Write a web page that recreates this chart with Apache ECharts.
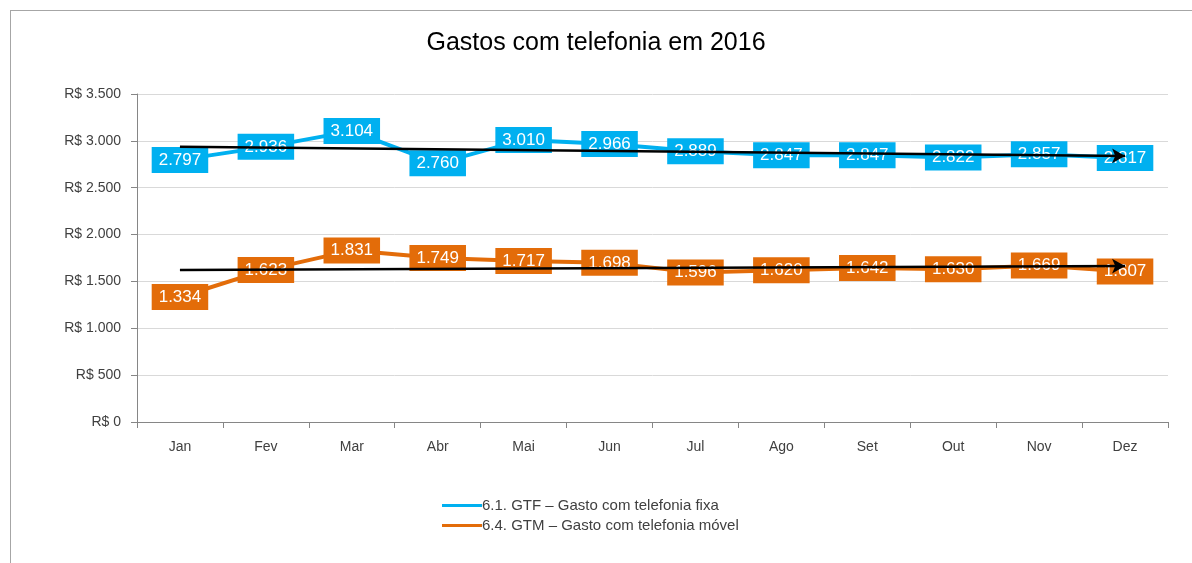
<!DOCTYPE html>
<html>
<head>
<meta charset="utf-8">
<script src="https://cdn.jsdelivr.net/npm/echarts@6/dist/echarts.min.js"></script>
<style>
    html, body { margin: 0; padding: 0; background: #fff; overflow: hidden; }
    #frame { position: absolute; left: 10px; top: 10px; width: 1200px; height: 600px; border: 1px solid #a6a6a6; }
    #main { position: absolute; left: 0; top: 0; width: 1192px; height: 563px; }
</style>
</head>
<body>
<div id="frame"></div>
<div id="main"></div>
<script>
// dados do gráfico
const months = ['Jan', 'Fev', 'Mar', 'Abr', 'Mai', 'Jun', 'Jul', 'Ago', 'Set', 'Out', 'Nov', 'Dez'];
const gtf = [2797, 2936, 3104, 2760, 3010, 2966, 2889, 2847, 2847, 2822, 2857, 2817];
const gtm = [1334, 1623, 1831, 1749, 1717, 1698, 1596, 1620, 1642, 1630, 1669, 1607];
// linhas de tendência (início em Jan, fim em Dez)
const trendGtf = [2938, 2838];
const trendGtm = [1622, 1664];
const names = ['6.1. GTF – Gasto com telefonia fixa', '6.4. GTM – Gasto com telefonia móvel'];

const blue = '#00b0f0';
const orange = '#e36c09';
const font = '"Liberation Sans Narrow", "Liberation Sans", sans-serif';

// formata número no padrão brasileiro (1.234)
const fmt = v => String(v).replace(/\B(?=(\d{3})+(?!\d))/g, '.');

const myChart = echarts.init(document.getElementById('main'));

const dataLabel = (color) => ({
    show: true,
    position: 'inside',
    color: '#fff',
    fontSize: 17,
    fontFamily: font,
    backgroundColor: color,
    padding: [5, 7, 4, 7],
    formatter: p => fmt(p.value)
});

const trendSeries = (arr) => ({
    type: 'line',
    data: [],
    z: 10,
    silent: true,
    markLine: {
        silent: true,
        symbol: ['none', 'arrow'],
        symbolSize: [11, 13],
        label: { show: false },
        lineStyle: { color: '#000', width: 2.5, type: 'solid' },
        data: [[
            { coord: [months[0], arr[0]] },
            { coord: [months[months.length - 1], arr[1]] }
        ]]
    }
});

const option = {
    animation: false,
    title: {
        text: 'Gastos com telefonia em 2016',
        left: 'center',
        top: 26,
        textStyle: { fontFamily: font, fontWeight: 'normal', fontSize: 25, color: '#000' }
    },
    legend: {
        orient: 'vertical',
        left: 437,
        top: 493,
        itemGap: 5,
        itemWidth: 40,
        itemHeight: 14,
        icon: 'path://M0,6 L40,6 L40,9 L0,9 Z',
        textStyle: { fontFamily: font, fontSize: 15, color: '#404040', padding: [0, 0, 0, -5] },
        data: names
    },
    grid: { left: 137, right: 24, top: 94, bottom: 141 },
    xAxis: {
        type: 'category',
        data: months,
        boundaryGap: true,
        axisLine: { lineStyle: { color: '#868686', width: 1 } },
        axisTick: { show: true, length: 6, lineStyle: { color: '#868686' } },
        axisLabel: { color: '#404040', fontSize: 14, fontFamily: font, margin: 18 }
    },
    yAxis: {
        type: 'value',
        min: 0,
        max: 3500,
        interval: 500,
        axisLine: { show: true, lineStyle: { color: '#868686' } },
        axisTick: { show: true, length: 6, lineStyle: { color: '#868686' } },
        splitLine: { lineStyle: { color: '#d9d9d9' } },
        axisLabel: {
            color: '#404040',
            fontSize: 14,
            fontFamily: font,
            margin: 16,
            formatter: v => 'R$ ' + fmt(v)
        }
    },
    series: [
        {
            name: names[0],
            type: 'line',
            data: gtf,
            symbol: 'circle',
            symbolSize: 1,
            lineStyle: { color: blue, width: 4 },
            itemStyle: { color: blue },
            label: dataLabel(blue)
        },
        {
            name: names[1],
            type: 'line',
            data: gtm,
            symbol: 'circle',
            symbolSize: 1,
            lineStyle: { color: orange, width: 4 },
            itemStyle: { color: orange },
            label: dataLabel(orange)
        },
        trendSeries(trendGtf),
        trendSeries(trendGtm)
    ]
};

myChart.setOption(option);
</script>
</body>
</html>
